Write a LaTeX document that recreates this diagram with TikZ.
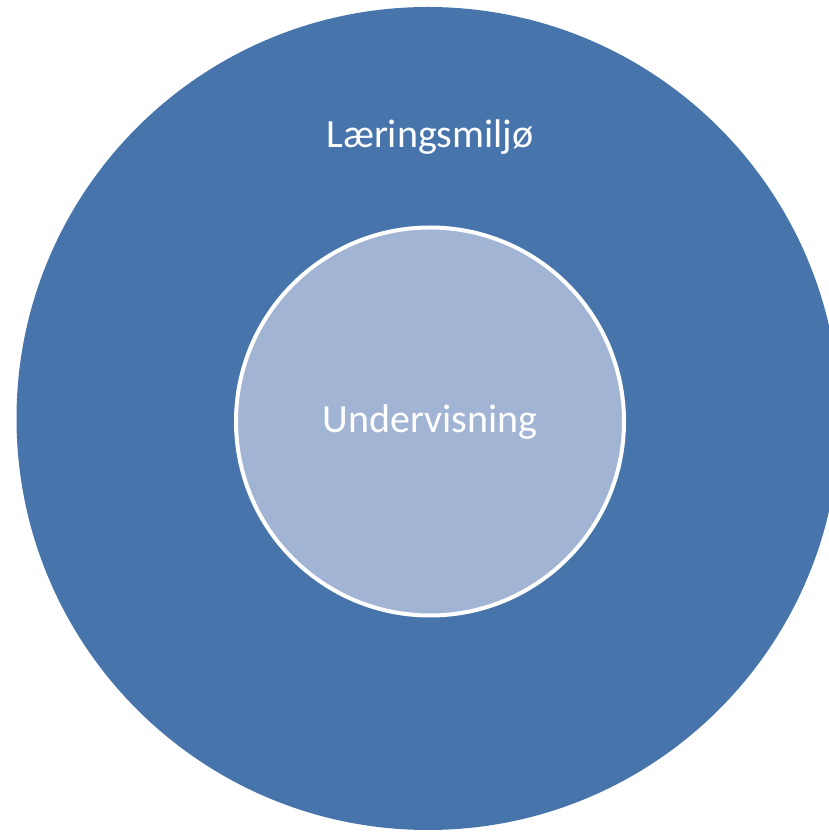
\documentclass[tikz,border=0pt]{standalone}
\usepackage{fontspec}
\setmainfont{Carlito}
\usepackage{xcolor}
\usepackage{tikz}
\usetikzlibrary{positioning}
\definecolor{outerblue}{RGB}{71,117,171}
\definecolor{innerblue}{RGB}{162,180,212}

\begin{document}
\begin{tikzpicture}[
    x=1pt, y=1pt,
    ring/.style={circle, inner sep=0pt, fill=outerblue, minimum size=823pt},
    core/.style={circle, inner sep=0pt, fill=innerblue, draw=white, line width=4pt, minimum size=388pt},
    lbl/.style={anchor=base, text=white, inner sep=0pt, font=\fontsize{40}{48}\selectfont}
]
    \clip (0,0) rectangle (829,832);
    \useasboundingbox (0,0) rectangle (829,832);
    % Nodes
    \node[ring] (miljo) at (428,413.5) {};
    \node[core] (undervisning) at (430,410.5) {};
    % Labels
    \node[lbl] (miljotext) at (430,684) {Læringsmiljø};
    \node[lbl] (undervisningtext) at (430,399) {Undervisning};
\end{tikzpicture}
\end{document}
